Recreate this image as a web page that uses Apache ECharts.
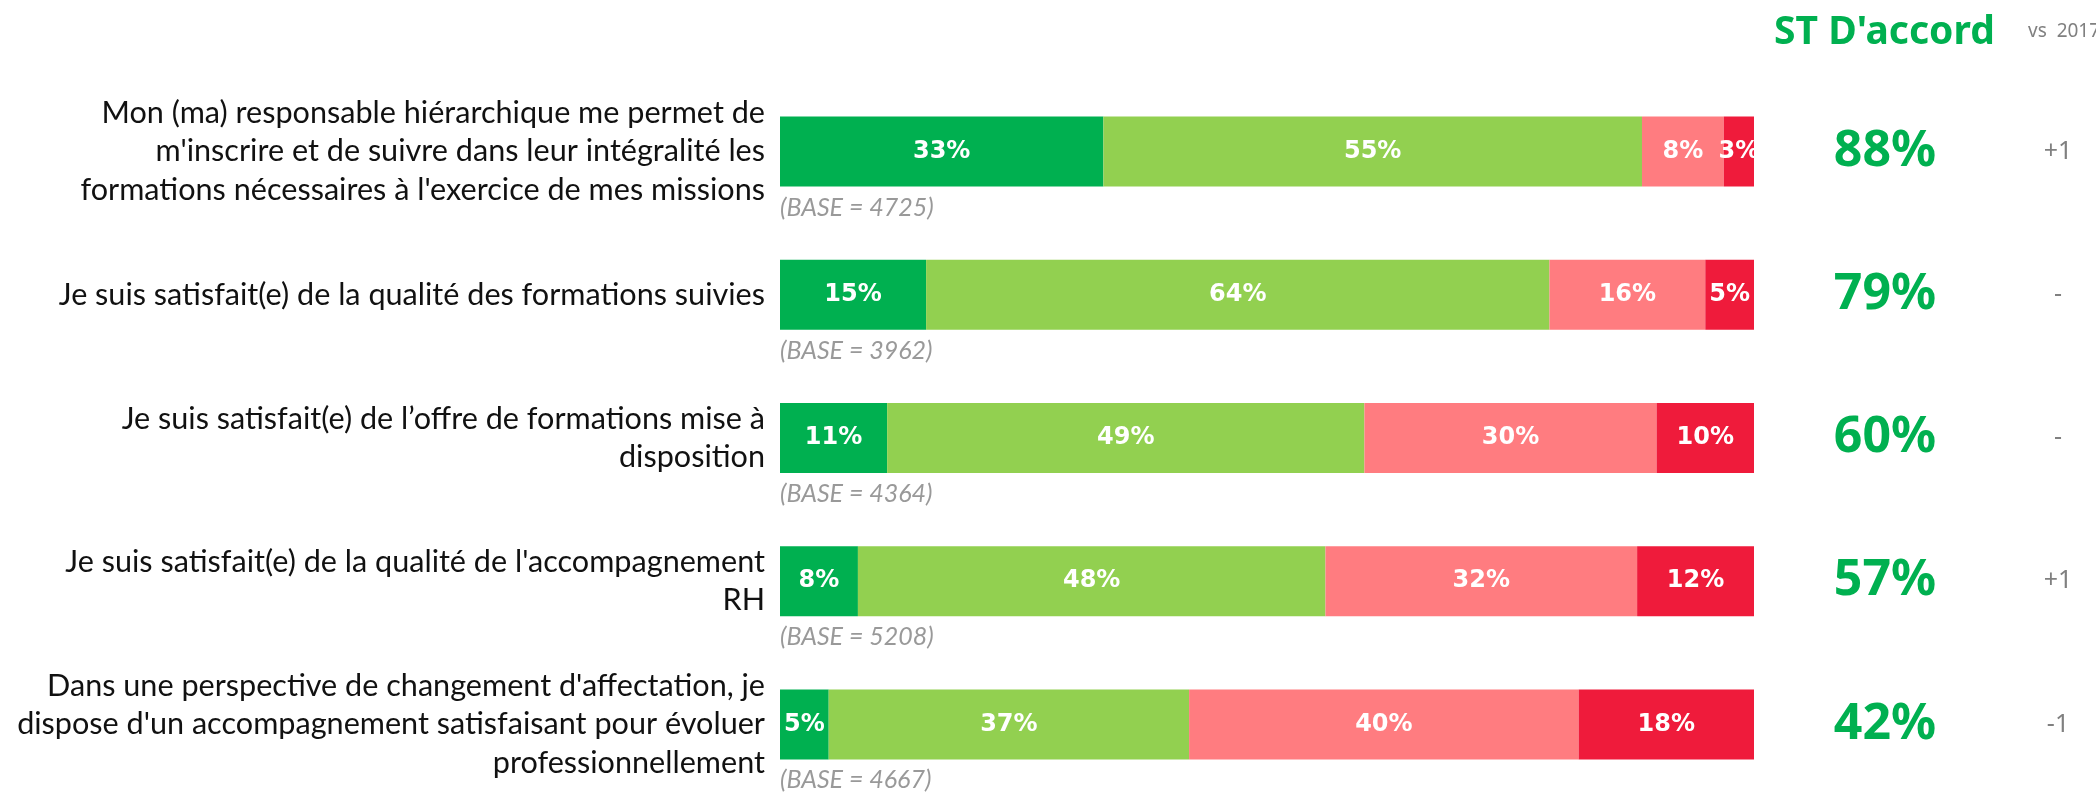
<!DOCTYPE html>
<html>
<head>
<meta charset="utf-8">
<script src="https://cdn.jsdelivr.net/npm/echarts@6/dist/echarts.min.js"></script>
<style>
  html, body { margin: 0; padding: 0; background: #fff; }
  #chart { width: 2096px; height: 796px; }
</style>
</head>
<body>
<div id="chart"></div>
<script>
// questions (top to bottom)
var questions = [
    "Mon (ma) responsable hiérarchique me permet de\nm'inscrire et de suivre dans leur intégralité les\nformations nécessaires à l'exercice de mes missions",
    "Je suis satisfait(e) de la qualité des formations suivies",
    "Je suis satisfait(e) de l’offre de formations mise à\ndisposition",
    "Je suis satisfait(e) de la qualité de l'accompagnement\nRH",
    "Dans une perspective de changement d'affectation, je\ndispose d'un accompagnement satisfaisant pour évoluer\nprofessionnellement"
];
var tresDaccord   = [33.2, 15, 11, 8, 5];
var plutotDaccord = [55.3, 64, 49, 48, 37];
var plutotPas     = [8.4, 16, 30, 32, 40];
var pasDuTout     = [3.1, 5, 10, 12, 18];
var bases = [4725, 3962, 4364, 5208, 4667];
var stDaccord = [88, 79, 60, 57, 42];
var vs2017 = ['+1', '-', '-', '+1', '-1'];

var chart = echarts.init(document.getElementById('chart'));

function segment(name, data, color) {
    return {
        name: name,
        type: 'bar',
        stack: 'total',
        barWidth: 70,
        data: data,
        itemStyle: { color: color },
        label: {
            show: true,
            position: 'inside',
            color: '#fff',
            fontFamily: 'DejaVu Sans',
            fontWeight: 'bold',
            fontSize: 24,
            formatter: function (p) { return Math.round(p.value) + '%'; }
        }
    };
}

var option = {
    backgroundColor: '#fff',
    animation: false,
    title: [
        {
            text: "ST D'accord",
            left: 1769,
            top: 8,
            textStyle: { color: '#00B050', fontFamily: 'Noto Sans', fontWeight: 'bold', fontSize: 39 }
        },
        {
            text: 'vs  2017',
            left: 2023,
            top: 17,
            textStyle: { color: '#808080', fontFamily: 'Noto Sans', fontWeight: 'normal', fontSize: 19 }
        }
    ],
    grid: { left: 780, right: 342, top: 80, bottom: -3 },
    xAxis: {
        type: 'value',
        min: 0,
        max: 100,
        show: false
    },
    yAxis: [
        {
            type: 'category',
            inverse: true,
            data: questions,
            axisLine: { show: false },
            axisTick: { show: false },
            axisLabel: {
                margin: 15,
                align: 'right',
                color: '#111',
                fontFamily: 'Lato',
                fontSize: 30.6,
                lineHeight: 38.5
            }
        },
        {
            type: 'category',
            inverse: true,
            position: 'right',
            data: questions,
            axisLine: { show: false },
            axisTick: { show: false },
            axisLabel: {
                margin: 131,
                align: 'center',
                color: '#00B050',
                fontFamily: 'Noto Sans',
                fontWeight: 'bold',
                fontSize: 50,
                formatter: function (v, i) { return stDaccord[i] + '%'; }
            }
        },
        {
            type: 'category',
            inverse: true,
            position: 'right',
            data: questions,
            axisLine: { show: false },
            axisTick: { show: false },
            axisLabel: {
                margin: 304,
                align: 'center',
                color: '#808080',
                fontFamily: 'Noto Sans',
                fontSize: 25,
                formatter: function (v, i) { return vs2017[i]; }
            }
        }
    ],
    series: [
        segment("Tout à fait d'accord", tresDaccord, '#00B050'),
        segment("Plutôt d'accord", plutotDaccord, '#92D050'),
        segment("Plutôt pas d'accord", plutotPas, '#FF7C80'),
        segment("Pas du tout d'accord", pasDuTout, '#EF1B3B'),
        {
            name: 'base',
            type: 'scatter',
            symbolSize: 0,
            silent: true,
            data: bases.map(function (b, i) { return [0, i]; }),
            label: {
                show: true,
                position: 'inside',
                align: 'left',
                offset: [0, 56],
                color: '#808080',
                fontFamily: 'Lato',
                fontStyle: 'italic',
                fontSize: 25,
                formatter: function (p) { return '(BASE = ' + bases[p.dataIndex] + ')'; }
            }
        }
    ]
};

chart.setOption(option);
</script>
</body>
</html>
